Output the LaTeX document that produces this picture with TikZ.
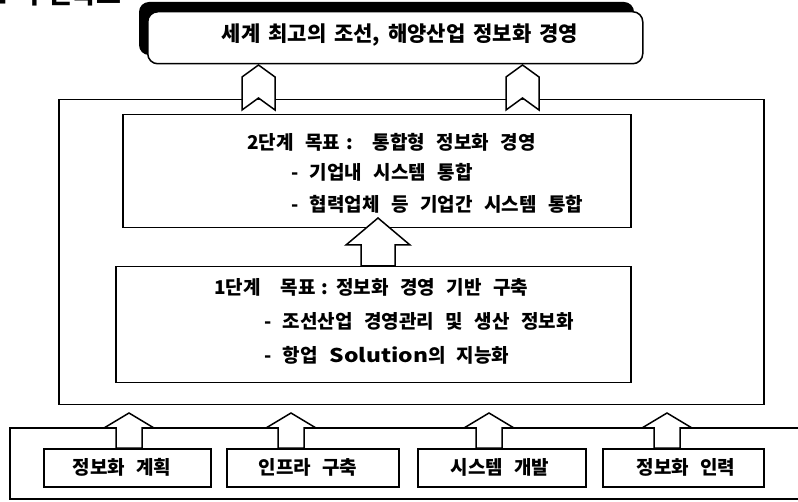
\documentclass[tikz,border=0pt]{standalone}
\usepackage{fontspec}
\usepackage{graphicx}
\newfontfamily\kr{Noto Sans CJK KR}
\newcommand\fntBox{\kr\bfseries\fontsize{19}{22}\selectfont\spaceskip 11.5pt\relax}
\newcommand\fntBot{\kr\bfseries\fontsize{19}{22}\selectfont\spaceskip 11.5pt\relax}
\newcommand\fntTop{\kr\bfseries\fontsize{21}{24}\selectfont\spaceskip 8pt\relax}
\newcommand\fntHead{\kr\bfseries\fontsize{27}{30}\selectfont}
\begin{document}
\begin{tikzpicture}[x=1pt,y=-1pt,line join=miter,
  box/.style={draw=black,line width=1.5pt,fill=white,rectangle,inner sep=0pt,anchor=north west},
  blk/.style={draw=black,line width=1.5pt,fill=white},
  txt/.style={font=\fntBox,inner sep=0pt,anchor=base west},
  btxt/.style={font=\fntBot,inner sep=0pt,anchor=base},
  ttxt/.style={font=\fntTop,inner sep=0pt,anchor=base},
  htxt/.style={font=\fntHead,inner sep=0pt},
]
\useasboundingbox (0,0) rectangle (798,502);
\fill[white] (0,0) rectangle (798,502);

% cut-off heading (cut off in the reference too)
\node[htxt,anchor=base east] (hbul) at (9,3.3) {■};
\node[htxt,anchor=base west] (head) at (22,3.3) {추진목표};

% top box with shadow
\fill[black,rounded corners=10pt] (139,2) rectangle (634,55);
\node[box,rounded corners=10pt,minimum width=495pt,minimum height=52pt] (top) at (147,11) {};
\node[ttxt] (title) at (400,42) {세계 최고의 조선, 해양산업 정보화 경영};

% big box
\node[box,minimum width=705pt,minimum height=305pt] (big) at (58,99) {};
% stage 2 box
\node[box,minimum width=508pt,minimum height=113pt] (b2) at (122,114) {};
\node[txt] (b2a) at (247,150) {2단계 목표\hspace{6pt}:\hspace{20pt}통합형 정보화 경영};
\node[txt] (b2b) at (291,180) {- 기업내 시스템 통합};
\node[txt] (b2c) at (291,211.5) {- 협력업체 등 기업간 시스템 통합};
% stage 1 box
\node[box,minimum width=515pt,minimum height=116pt] (b1) at (115,266) {};
\node[txt] (b1a) at (214,295) {1단계\hspace{20pt}목표\hspace{6pt}:\hspace{8pt}정보화 경영 기반 구축};
\node[txt] (b1b) at (264,329) {- 조선산업 경영관리 및 생산 정보화};
\node[txt] (b1c) at (264,363) {- 항업 \scalebox{1.2}[1]{Solution}의 지능화};

% chevrons from big box to top box
\foreach \cx in {258.5,522.5}{
  \draw[blk] (\cx,65) -- (\cx+16.5,77) -- (\cx+16.5,110) -- (\cx,98)
    -- (\cx-16.5,110) -- (\cx-16.5,77) -- cycle;
}
% arrow from stage 1 to stage 2
\draw[blk] (378,218) -- (410,245) -- (395,245) -- (395,266) -- (361,266)
  -- (361,245) -- (346,245) -- cycle;

% bottom frame (open on the right)
\draw[line width=1.5pt] (805,428) -- (10,428) -- (10,499) -- (805,499);

% bottom boxes
\node[box,minimum width=167pt,minimum height=38pt] (p1) at (43,448) {};
\node[box,minimum width=172pt,minimum height=38pt] (p2) at (226,448) {};
\node[box,minimum width=168pt,minimum height=38pt] (p3) at (417,448) {};
\node[box,minimum width=161pt,minimum height=38pt] (p4) at (602,448) {};
\node[btxt] (t1) at (122,474) {정보화 계획};
\node[btxt] (t2) at (308,474) {인프라 구축};
\node[btxt] (t3) at (500,474) {시스템 개발};
\node[btxt] (t4) at (686,474) {정보화 인력};

% up arrows from bottom boxes
\foreach \cx in {129,291,489,667}{
  \draw[blk] (\cx,413) -- (\cx+25,428) -- (\cx+13,428) -- (\cx+13,448)
    -- (\cx-13,448) -- (\cx-13,428) -- (\cx-25,428) -- cycle;
}
\end{tikzpicture}
\end{document}
